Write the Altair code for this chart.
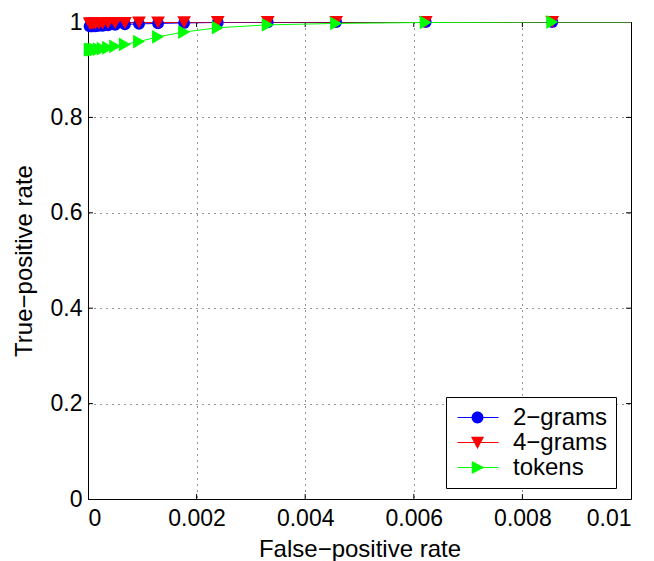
import altair as alt
import pandas as pd

# False-positive rate of each threshold (shared by the three series)
fpr = [0.0117, 0.00855, 0.00622, 0.00457, 0.00331, 0.00239, 0.00177, 0.00129,
       0.00094, 0.00068, 0.00050, 0.00037, 0.00027, 0.00020, 0.00014,
       0.00010, 0.00007, 0.00005, 0.00003]
tpr_2grams = [1.0, 1.0, 1.0, 1.0, 0.9995, 0.999, 0.998, 0.997, 0.996, 0.995,
              0.994, 0.993, 0.992, 0.992, 0.991, 0.991, 0.991, 0.991, 0.991]
tpr_4grams = [1.0, 1.0, 1.0, 1.0, 1.0, 1.0, 0.9995, 0.999, 0.999, 0.998,
              0.998, 0.998, 0.997, 0.997, 0.997, 0.997, 0.997, 0.997, 0.997]
tpr_tokens = [1.0, 1.0, 0.999, 0.997, 0.994, 0.988, 0.979, 0.969, 0.959,
              0.953, 0.949, 0.946, 0.944, 0.943, 0.942, 0.942, 0.942, 0.942, 0.942]

series_names = ["2\u2212grams", "4\u2212grams", "tokens"]
series_colors = ["#0000ff", "#ff0000", "#00ff00"]
plot_shapes = ["circle", "triangle-down", "triangle-right"]
marker_sizes = [140, 190, 190]
legend_shapes = [
    "M0.29,0A0.29,0.29 0 1,1 -0.29,0A0.29,0.29 0 1,1 0.29,0Z",
    "M-0.32,-0.28L0.32,-0.28L0,0.32Z",
    "M-0.28,-0.32L0.34,0L-0.28,0.32Z",
]

x_ticks = [0, 0.002, 0.004, 0.006, 0.008, 0.01]
y_ticks = [0, 0.2, 0.4, 0.6, 0.8, 1.0]

FONT = "Liberation Sans"

rows = []
for name, vals in zip(series_names, [tpr_2grams, tpr_4grams, tpr_tokens]):
    for i, (f, t) in enumerate(zip(fpr, vals)):
        rows.append({"s": name, "series": name, "series_l": name,
                     "fpr": f, "tpr": t, "order": i})
df = pd.DataFrame(rows)

xs = alt.Scale(domain=[0, 0.01], nice=False, zero=False)
ys = alt.Scale(domain=[0, 1], nice=False, zero=False)
cscale = alt.Scale(domain=series_names, range=series_colors)

X = alt.X("fpr:Q", scale=xs, axis=alt.Axis(
    title="False\u2212positive rate", values=x_ticks, format=".3~f",
    ticks=False, grid=True, gridDash=[1, 5], gridColor="#000000", gridOpacity=0.85,
    labelPadding=8, titlePadding=7, domainColor="#000000",
    labelFontSize=23, titleFontSize=24))
Y = alt.Y("tpr:Q", scale=ys, axis=alt.Axis(
    title="True\u2212positive rate", values=y_ticks, format="~g",
    ticks=False, grid=True, gridDash=[1, 5], gridColor="#000000", gridOpacity=0.85,
    labelPadding=6, titlePadding=14, domainColor="#000000",
    labelFontSize=23, titleFontSize=24))

base = alt.Chart(df)

lines = base.mark_line(strokeWidth=1, clip=True).encode(
    x=X, y=Y,
    color=alt.Color("s:N", scale=cscale, legend=None),
    detail="s:N", order="order:Q")

point_layers = []
for name, shp, sz in zip(series_names, plot_shapes, marker_sizes):
    point_layers.append(
        base.transform_filter(
            (alt.datum.fpr <= 0.01) & (alt.datum.s == name)
        ).mark_point(filled=True, opacity=1, size=sz, strokeWidth=1, shape=shp).encode(
            x="fpr:Q", y="tpr:Q",
            color=alt.Color("s:N", scale=cscale, legend=None))
    )

LEG_X, LEG_Y = 358, 375
common = dict(title=None, orient="none", legendX=LEG_X, legendY=LEG_Y,
              symbolSize=1681, labelFontSize=24, labelFont=FONT,
              labelOffset=15, padding=8, rowPadding=0, clipHeight=25,
              symbolOffset=3, symbolOpacity=1)

# markers + labels + white box
legend_pts = base.transform_filter("false").mark_point(filled=True, opacity=1).encode(
    x="fpr:Q", y="tpr:Q",
    color=alt.Color("series:N", scale=alt.Scale(domain=series_names, range=series_colors),
                    legend=alt.Legend(labelColor="#000000", strokeColor="#000000",
                                      fillColor="#ffffff", symbolStrokeWidth=0, **common)),
    shape=alt.Shape("series:N", scale=alt.Scale(domain=series_names, range=legend_shapes),
                    legend=alt.Legend(labelColor="#000000", strokeColor="#000000",
                                      fillColor="#ffffff", symbolStrokeWidth=0, **common)))

# line segments of the legend symbols
legend_lines = base.transform_filter("false").mark_line(strokeWidth=1).encode(
    x="fpr:Q", y="tpr:Q",
    color=alt.Color("series_l:N", scale=alt.Scale(domain=series_names, range=series_colors),
                    legend=alt.Legend(labelColor="transparent", symbolType="stroke",
                                      symbolStrokeWidth=1, **common)))

tick_df_x = pd.DataFrame({"v": x_ticks[1:-1]})
tick_df_y = pd.DataFrame({"v": y_ticks[1:-1]})
tx = alt.Chart(tick_df_x)
ty = alt.Chart(tick_df_y)
ticks = alt.layer(
    tx.mark_rule(color="black", strokeWidth=1).encode(x=alt.X("v:Q", scale=xs), y=alt.value(477), y2=alt.value(472)),
    tx.mark_rule(color="black", strokeWidth=1).encode(x=alt.X("v:Q", scale=xs), y=alt.value(0), y2=alt.value(5)),
    ty.mark_rule(color="black", strokeWidth=1).encode(y=alt.Y("v:Q", scale=ys), x=alt.value(0), x2=alt.value(5)),
    ty.mark_rule(color="black", strokeWidth=1).encode(y=alt.Y("v:Q", scale=ys), x=alt.value(543), x2=alt.value(538)),
)

chart = alt.layer(ticks, lines, *point_layers, legend_pts, legend_lines).resolve_scale(
    color="independent", shape="independent"
).properties(
    width=543, height=477,
    autosize=alt.AutoSizeParams(type="none"),
    padding={"left": 88, "top": 22, "right": 23, "bottom": 62},
    background="#ffffff",
).configure_view(
    stroke="#000000", strokeWidth=1
).configure_axis(
    labelFont=FONT, titleFont=FONT,
    labelColor="#000000", titleColor="#000000",
    titleFontWeight="normal", domainWidth=1
)

chart.save("out.html", embed_options={"renderer": "svg", "actions": False})
